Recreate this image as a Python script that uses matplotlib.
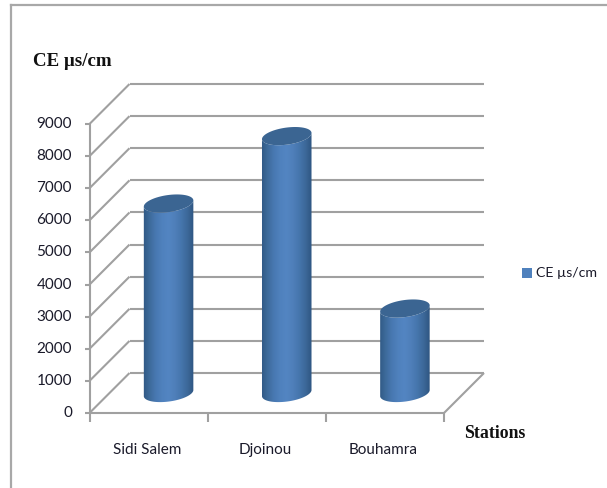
import numpy as np
import matplotlib
matplotlib.use("Agg")
import matplotlib.pyplot as plt
from matplotlib.path import Path
from matplotlib.patches import PathPatch, Rectangle
from matplotlib.colors import LinearSegmentedColormap
from matplotlib.lines import Line2D

stations = ["Sidi Salem", "Djoinou", "Bouhamra"]
ce_values = [5900, 8000, 2630]
y_ticks = list(range(0, 10000, 1000))
series_name = "CE µs/cm"
y_title = "CE µs/cm"
x_title = "Stations"

W, H = 607, 488
LEFT, RIGHT, BOTTOM, TOP = 89.5, 444.0, 413.0, 124.0
DEPTH = 40.0
GRID = "#a0a0a0"
TEXT = "#1a1a2a"

fig = plt.figure(figsize=(W / 100, H / 100), dpi=100, facecolor="white")
ax = fig.add_axes([LEFT / W, 1 - BOTTOM / H, (RIGHT - LEFT) / W, (BOTTOM - TOP) / H])
ax.set_xlim(0, 3)
ax.set_ylim(0, 9000)
ax.patch.set_visible(False)
for spine in ax.spines.values():
    spine.set_visible(False)

# Pixel-to-data scale factors for the oblique depth offset
sx = 3 / (RIGHT - LEFT)
sy = 9000 / (BOTTOM - TOP)
dx, dy = DEPTH * sx, DEPTH * sy


def line(xs, ys, color=GRID, lw=1.5, z=1):
    ax.add_line(Line2D(xs, ys, color=color, lw=lw, zorder=z, clip_on=False,
                       solid_capstyle="butt"))


# Back wall gridlines and their diagonals along the side wall
for v in y_ticks:
    line([dx, 3 + dx], [v + dy, v + dy])
    line([0, dx], [v, v + dy])

# Floor edges
line([0, 3], [0, 0])
line([3, 3 + dx], [0, dy])
line([0, 0], [0, 9000])

# Tick marks
for v in y_ticks:
    line([-4.5 * sx, 0], [v, v])
for i in range(4):
    line([i, i], [0, -9 * sy])

ax.set_xticks([])
ax.set_yticks([])

# Labels for the value axis and categories
for v in y_ticks:
    ax.text(-17.5 * sx, v, str(v), ha="right", va="center", fontsize=11,
            family="Lato", color=TEXT, clip_on=False)
for i, name in enumerate(stations):
    ax.text(i + 0.5 - 1.5 * sx, -37 * sy, name, ha="center", va="center", fontsize=11,
            family="Lato", color=TEXT, clip_on=False)

cmap = LinearSegmentedColormap.from_list(
    "cyl", ["#2f5783", "#3d6a9a", "#4878b1", "#4f81bd", "#5385c2", "#4f7fba",
            "#4676ad", "#3c6899", "#2f5681"])
gradient = np.linspace(0, 1, 256).reshape(1, -1)

RX, RY, TILT = 25.0, 8.5, np.deg2rad(8)


def ellipse_points(cx, cy, t):
    # Tilted ellipse, computed in pixels and returned in data units
    px = RX * np.cos(t) * np.cos(TILT) - RY * np.sin(t) * np.sin(TILT)
    py = RX * np.cos(t) * np.sin(TILT) + RY * np.sin(t) * np.cos(TILT)
    return cx + px * sx, cy + py * sy


for i, v in enumerate(ce_values):
    cx = i + 0.5 + dx / 2
    base = dy / 2
    t_front = np.linspace(np.pi, 2 * np.pi, 60)
    xb, yb = ellipse_points(cx, base, t_front)
    xt, yt = ellipse_points(cx, v + base, t_front[::-1])
    verts = np.column_stack([np.r_[xb, xt], np.r_[yb, yt]])
    body = PathPatch(Path(np.vstack([verts, verts[0]])), fc="none", ec="none", zorder=3,
                     clip_on=False)
    ax.add_patch(body)
    img = ax.imshow(gradient, cmap=cmap, aspect="auto", zorder=3, interpolation="bilinear",
                    extent=(cx - (RX + 0.5) * sx, cx + (RX + 0.5) * sx,
                            -20 * sy, v + base + 20 * sy))
    img.set_clip_path(body)
    tx, ty = ellipse_points(cx, v + base, np.linspace(0, 2 * np.pi, 120))
    ax.fill(tx, ty, color="#3b6592", lw=0, zorder=4, clip_on=False)

ax.set_xlim(0, 3)
ax.set_ylim(0, 9000)

# Page-level items placed in figure pixels
frame_x, frame_y = 10.5 / W, 1 - 4.5 / H
fig.add_artist(Line2D([frame_x, frame_x], [0, frame_y], color="#a8a8a8", lw=1.6))
fig.add_artist(Line2D([frame_x, 1], [frame_y, frame_y], color="#a8a8a8", lw=1.6))
fig.text(33 / W, 1 - 62 / H, y_title, family="Liberation Serif", weight="bold",
         fontsize=13.6, color="#111111", va="center")
fig.text(464 / W, 1 - 433 / H, x_title, family="Liberation Serif", weight="bold",
         fontsize=12.8, color="#111111", va="center")
fig.add_artist(Rectangle((522 / W, 1 - 278 / H), 10 / W, 10 / H, fc="#4f81bd", ec="none",
                         transform=fig.transFigure))
fig.text(536 / W, 1 - 273 / H, series_name, family="Lato", fontsize=10.2,
         color=TEXT, va="center")

fig.savefig("out.png", dpi=100)
